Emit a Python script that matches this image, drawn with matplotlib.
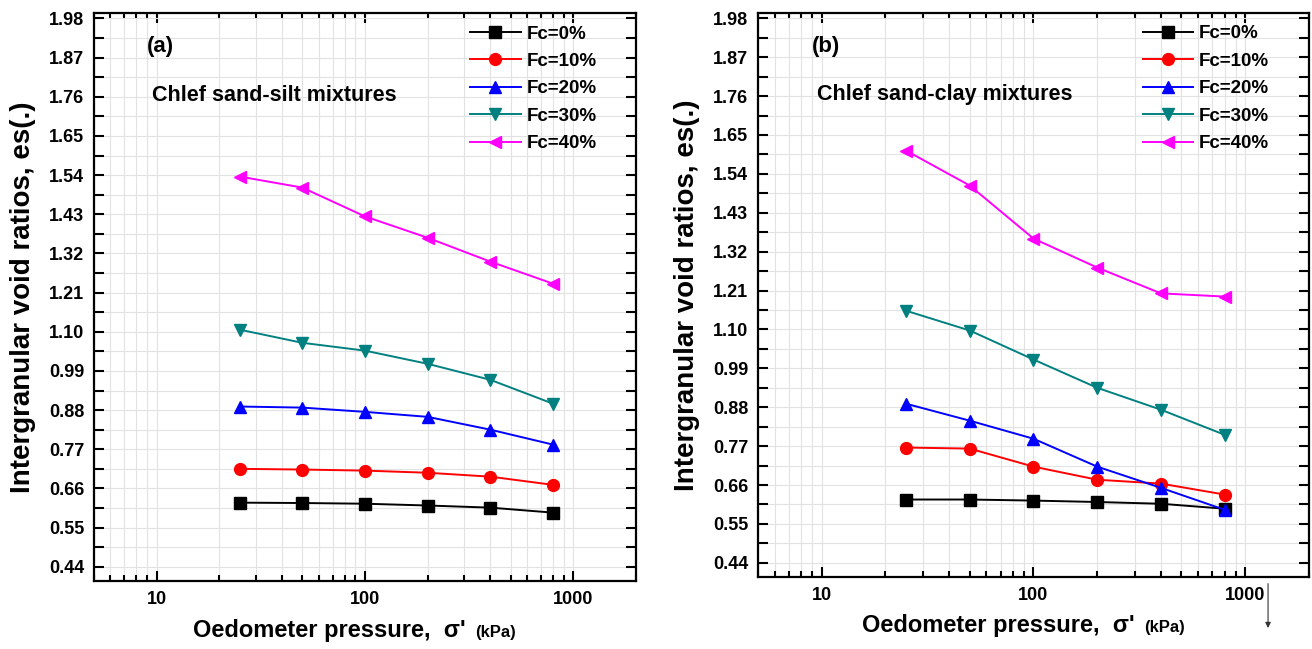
import numpy as np
import matplotlib
matplotlib.use("Agg")
import matplotlib.pyplot as plt
from matplotlib.ticker import FixedLocator, LogLocator, NullFormatter, FuncFormatter

plt.rcParams['font.family'] = ['Liberation Sans', 'DejaVu Sans']
plt.rcParams['font.weight'] = 'bold'

pressure = [25, 50, 100, 200, 400, 800]
labels = ['Fc=0%', 'Fc=10%', 'Fc=20%', 'Fc=30%', 'Fc=40%']
colors = ['#000000', '#ff0000', '#0000ff', '#008080', '#ff00ff']
markers = ['s', 'o', '^', 'v', '<']

silt_fc0 = [0.620, 0.619, 0.617, 0.612, 0.606, 0.592]
silt_fc10 = [0.715, 0.713, 0.710, 0.704, 0.693, 0.670]
silt_fc20 = [0.890, 0.887, 0.875, 0.861, 0.825, 0.783]
silt_fc30 = [1.106, 1.069, 1.047, 1.010, 0.965, 0.898]
silt_fc40 = [1.536, 1.505, 1.424, 1.364, 1.297, 1.235]

clay_fc0 = [0.619, 0.619, 0.616, 0.612, 0.607, 0.593]
clay_fc10 = [0.766, 0.763, 0.712, 0.675, 0.664, 0.633]
clay_fc20 = [0.890, 0.842, 0.791, 0.712, 0.652, 0.590]
clay_fc30 = [1.153, 1.097, 1.015, 0.935, 0.873, 0.802]
clay_fc40 = [1.606, 1.507, 1.357, 1.275, 1.202, 1.193]

yticks = [0.44, 0.55, 0.66, 0.77, 0.88, 0.99, 1.10, 1.21, 1.32, 1.43, 1.54, 1.65, 1.76, 1.87, 1.98]
yminor = [round(v + 0.055, 3) for v in yticks[:-1]]

fig = plt.figure(figsize=(13.12, 6.49), dpi=100)
ax_a = fig.add_axes([0.0716, 0.1048, 0.4131, 0.875])
ax_b = fig.add_axes([0.5777, 0.1110, 0.4200, 0.869])

panels = [
    (ax_a, [silt_fc0, silt_fc10, silt_fc20, silt_fc30, silt_fc40], '(a)', 'Chlef sand-silt mixtures'),
    (ax_b, [clay_fc0, clay_fc10, clay_fc20, clay_fc30, clay_fc40], '(b)', 'Chlef sand-clay mixtures'),
]

for ax, series, tag, title in panels:
    for vals, lab, c, m in zip(series, labels, colors, markers):
        ax.plot(pressure, vals, color=c, marker=m, markersize=8.5, linewidth=1.4,
                label=lab, zorder=3)
    ax.set_xscale('log')
    ax.set_xlim(5, 2000)
    ax.set_ylim(0.40, 1.995)
    ax.yaxis.set_major_locator(FixedLocator(yticks))
    ax.yaxis.set_minor_locator(FixedLocator(yminor))
    ax.set_yticklabels([f'{v:.2f}' for v in yticks])
    ax.xaxis.set_major_locator(FixedLocator([10, 100, 1000]))
    ax.xaxis.set_major_formatter(FuncFormatter(lambda v, p: f'{int(v)}'))
    ax.xaxis.set_minor_locator(LogLocator(base=10, subs=np.arange(2, 10), numticks=20))
    ax.xaxis.set_minor_formatter(NullFormatter())
    ax.grid(True, which='both', color='#e2e2e2', linewidth=0.8, zorder=0)
    ax.set_axisbelow(True)
    ax.tick_params(which='both', direction='in', top=True, right=True, width=1.5,
                   labelsize=13, pad=7)
    ax.tick_params(axis='y', which='both', length=7)
    ax.tick_params(axis='x', which='major', length=7.5)
    ax.tick_params(axis='x', which='minor', length=4)
    for lbl in ax.get_xticklabels() + ax.get_yticklabels():
        lbl.set_fontweight('bold')
    for s in ax.spines.values():
        s.set_linewidth(1.6)
    ax.set_ylabel('Intergranular void ratios, es(.)', fontsize=20, fontweight='bold')
    ax.yaxis.set_label_coords(-0.106, 0.5)
    ax.text(0.098, 0.96, tag, transform=ax.transAxes, fontsize=16, fontweight='bold',
            va='top', ha='left')
    ax.text(0.108, 0.855, title, transform=ax.transAxes, fontsize=15.5, fontweight='bold',
            va='center', ha='left')
    ax.legend(loc='upper right', bbox_to_anchor=(0.948, 0.998), frameon=False,
              handlelength=2.7, handletextpad=0.3, labelspacing=0.55,
              prop={'weight': 'bold', 'size': 13.5}, borderaxespad=0.2)

fig.text(0.147, 0.0185, "Oedometer pressure,  \u03c3'", fontsize=17, fontweight='bold',
         ha='left', va='baseline')
fig.text(0.362, 0.0185, '(kPa)', fontsize=12, fontweight='bold', ha='left', va='baseline')
fig.text(0.657, 0.026, "Oedometer pressure,  \u03c3'", fontsize=17, fontweight='bold',
         ha='left', va='baseline')
fig.text(0.872, 0.026, '(kPa)', fontsize=12, fontweight='bold', ha='left', va='baseline')

# small arrow below panel (b)
fig.patches.append(matplotlib.patches.FancyArrowPatch(
    (0.9665, 0.105), (0.9665, 0.028), transform=fig.transFigure,
    arrowstyle='-|>', mutation_scale=8, color='#333333', linewidth=0.8))

fig.savefig('out.png', dpi=100)
